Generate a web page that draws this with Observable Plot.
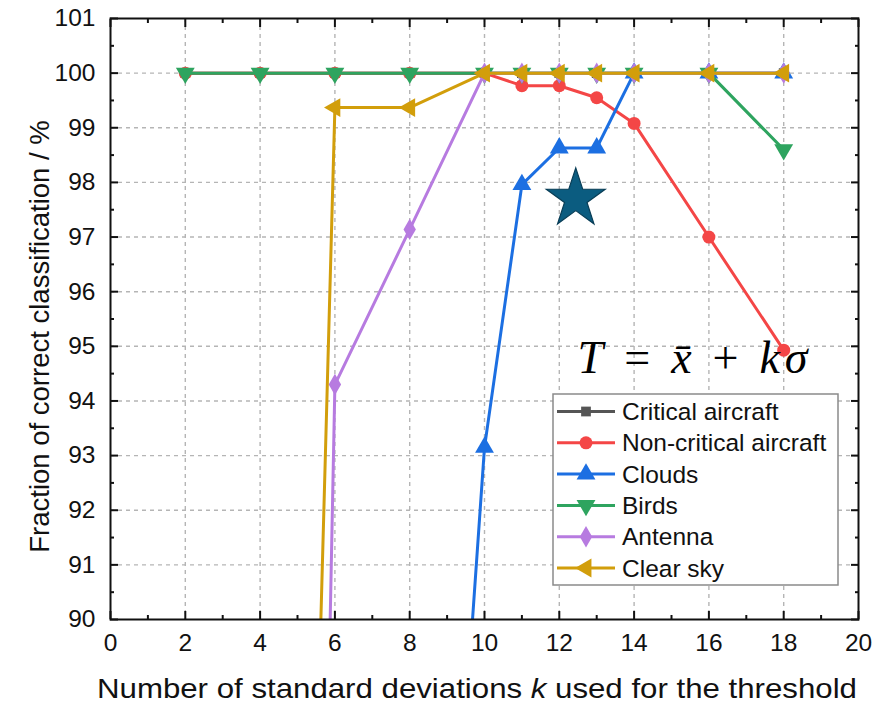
<!DOCTYPE html>
<html><head><meta charset="utf-8">
<script src="https://cdn.jsdelivr.net/npm/d3@7"></script>
<script src="https://cdn.jsdelivr.net/npm/@observablehq/plot@0.6"></script>
<style>body{margin:0;background:#fff;} #chart{width:874px;height:705px;}</style>
</head><body><div id="chart"></div>
<script>
// ---- data ----
const seriesNames = ["Critical aircraft", "Non-critical aircraft", "Clouds", "Birds", "Antenna", "Clear sky"];
const seriesColors = ["#555555", "#f44646", "#1c6fe2", "#2ea45f", "#b77be0", "#d29e0b"];
const kCritical = [2, 4, 6, 8, 10, 11, 12, 13, 14, 16, 18];
const valCritical = [100, 100, 100, 100, 100, 100, 100, 100, 100, 100, 100];
const kNonCritical = [2, 4, 6, 8, 10, 11, 12, 13, 14, 16, 18];
const valNonCritical = [100, 100, 100, 100, 100, 99.77, 99.77, 99.55, 99.08, 97.0, 94.93];
const kClouds = [8, 10, 11, 12, 13, 14, 16, 18];
const valClouds = [73.5, 93.15, 97.96, 98.63, 98.63, 100, 100, 100];
const kBirds = [2, 4, 6, 8, 10, 11, 12, 13, 14, 16, 18];
const valBirds = [100, 100, 100, 100, 100, 100, 100, 100, 100, 100, 98.6];
const kAntenna = [4, 6, 8, 10, 11, 12, 13, 14, 16, 18];
const valAntenna = [26, 94.3, 97.14, 100, 100, 100, 100, 100, 100, 100];
const kClearSky = [4, 6, 8, 10, 11, 12, 13, 14, 16, 18];
const valClearSky = [49.4, 99.37, 99.37, 100, 100, 100, 100, 100, 100, 100];
const xTicks = [0, 2, 4, 6, 8, 10, 12, 14, 16, 18, 20];
const yTicks = [90, 91, 92, 93, 94, 95, 96, 97, 98, 99, 100, 101];
const starPoint = [{k: 12.44, v: 97.7}];
const xTitleParts = ["Number of standard deviations ", "k", " used for the threshold"];
const yTitle = "Fraction of correct classification / %";

// ---- custom symbols ----
const sqrt3 = Math.sqrt(3);
const triDown = {draw(c, size) { const y = -Math.sqrt(size / (sqrt3 * 3)); c.moveTo(0, -y * 2); c.lineTo(-sqrt3 * y, y); c.lineTo(sqrt3 * y, y); c.closePath(); }};
const triLeft = {draw(c, size) { const y = -Math.sqrt(size / (sqrt3 * 3)); c.moveTo(y * 2, 0); c.lineTo(-y, -sqrt3 * y); c.lineTo(-y, sqrt3 * y); c.closePath(); }};
const seriesSymbols = ["square", "circle", "triangle", triDown, "diamond", triLeft];
const seriesR = [5.5, 6.5, 7, 7, 6.5, 7];

const ks = [kCritical, kNonCritical, kClouds, kBirds, kAntenna, kClearSky];
const vs = [valCritical, valNonCritical, valClouds, valBirds, valAntenna, valClearSky];
const series = seriesNames.map((name, i) => ks[i].map((k, j) => ({name, k, v: vs[i][j]})));

const seriesMarks = series.flatMap((data, i) => [
  Plot.line(data, {x: "k", y: "v", stroke: seriesColors[i], strokeWidth: 3, clip: true}),
  Plot.dot(data, {x: "k", y: "v", fill: seriesColors[i], symbol: seriesSymbols[i], r: seriesR[i], clip: true})
]);

const gridStyle = {stroke: "#b5b5b5", strokeOpacity: 1, strokeWidth: 1.4, strokeDasharray: "4,4"};
const minorX = d3.range(1, 20, 2);
const minorY = d3.range(90.5, 101, 1);
const blank = () => "";

const plot = Plot.plot({
  width: 874, height: 705,
  marginLeft: 110, marginRight: 16, marginTop: 18, marginBottom: 86,
  style: {fontFamily: "'Liberation Sans', Arial, sans-serif", fontSize: "24px", color: "#111", background: "#fff"},
  x: {domain: [0, 20]},
  y: {domain: [90, 101]},
  marks: [
    Plot.gridX(xTicks.slice(1, -1), gridStyle),
    Plot.gridY(yTicks.slice(1, -1), gridStyle),
    ...seriesMarks,
    Plot.dot(starPoint, {x: "k", y: "v", symbol: "star", r: 18.5, fill: "#0b5c80", stroke: "#083d56", strokeWidth: 1.2}),
    Plot.frame({stroke: "#111", strokeWidth: 2}),
    // tick labels
    Plot.axisX({anchor: "bottom", ticks: xTicks, tickSize: 0, tickPadding: 14, label: null}),
    Plot.axisY({anchor: "left", ticks: yTicks, tickSize: 0, tickPadding: 15, label: null}),
    // inward ticks
    Plot.axisX({anchor: "bottom", ticks: xTicks, tickSize: -8, tickFormat: blank, label: null, strokeWidth: 2}),
    Plot.axisX({anchor: "bottom", ticks: minorX, tickSize: -4, tickFormat: blank, label: null, strokeWidth: 2}),
    Plot.axisX({anchor: "top", ticks: xTicks, tickSize: -8, tickFormat: blank, label: null, strokeWidth: 2}),
    Plot.axisX({anchor: "top", ticks: minorX, tickSize: -4, tickFormat: blank, label: null, strokeWidth: 2}),
    Plot.axisY({anchor: "left", ticks: yTicks, tickSize: -8, tickFormat: blank, label: null, strokeWidth: 2}),
    Plot.axisY({anchor: "left", ticks: minorY, tickSize: -4, tickFormat: blank, label: null, strokeWidth: 2}),
    Plot.axisY({anchor: "right", ticks: yTicks, tickSize: -8, tickFormat: blank, label: null, strokeWidth: 2}),
    Plot.axisY({anchor: "right", ticks: minorY, tickSize: -4, tickFormat: blank, label: null, strokeWidth: 2})
  ]
});
document.getElementById("chart").appendChild(plot);

// ---- tick label size (applied to the axis texts before any annotation is added) ----
const svg = d3.select(plot);
svg.selectAll("text").style("font-size", "24.5px").attr("font-size", "24.5px");

// ---- annotations: axis titles, formula, legend ----
const sx = plot.scale("x"), sy = plot.scale("y");
const font = "'Liberation Sans', Arial, sans-serif";

const xt = svg.append("text").attr("x", 97).attr("y", 698)
  .attr("text-anchor", "start").attr("font-family", font).style("font-size", "28px").attr("fill", "#111")
  .attr("textLength", 760).attr("lengthAdjust", "spacingAndGlyphs");
xTitleParts.forEach((p, i) => xt.append("tspan").attr("font-style", i === 1 ? "italic" : "normal").text(p));

svg.append("text").attr("transform", `translate(49,${(sy.apply(90) + sy.apply(101)) / 2 + 18}) rotate(-90)`)
  .attr("text-anchor", "middle").attr("font-family", font).style("font-size", "27.5px").attr("fill", "#111").text(yTitle);

const ft = svg.append("text").attr("x", sx.apply(12.5)).attr("y", sy.apply(94.5))
  .attr("text-anchor", "start").attr("textLength", 230).attr("lengthAdjust", "spacing")
  .attr("font-family", "'Liberation Serif', 'DejaVu Serif', serif").style("font-size", "46px").attr("fill", "#000");
[["T", true], [" = ", false], ["x\u0304", true], [" + ", false], ["k\u03C3", true]]
  .forEach(([t, it]) => ft.append("tspan").attr("font-style", it ? "italic" : "normal").text(t));

const lg = svg.append("g");
lg.append("rect").attr("x", 553).attr("y", 394).attr("width", 285).attr("height", 191)
  .attr("fill", "#fff").attr("stroke", "#8a8a8a").attr("stroke-width", 1.5);
seriesNames.forEach((name, i) => {
  const y = 411.5 + i * 31.3;
  lg.append("line").attr("x1", 557).attr("x2", 615).attr("y1", y).attr("y2", y)
    .attr("stroke", seriesColors[i]).attr("stroke-width", 3);
  const sym = typeof seriesSymbols[i] === "string"
    ? {square: d3.symbolSquare, circle: d3.symbolCircle, triangle: d3.symbolTriangle, diamond: d3.symbolDiamond}[seriesSymbols[i]]
    : seriesSymbols[i];
  lg.append("path").attr("transform", `translate(586,${y})`)
    .attr("d", d3.symbol(sym, Math.PI * seriesR[i] * seriesR[i])())
    .attr("fill", seriesColors[i]);
  lg.append("text").attr("x", 622).attr("y", y).attr("dy", "0.35em").attr("text-anchor", "start")
    .attr("font-family", font).style("font-size", "24.5px").attr("fill", "#111").text(name);
});
</script>
</body></html>
